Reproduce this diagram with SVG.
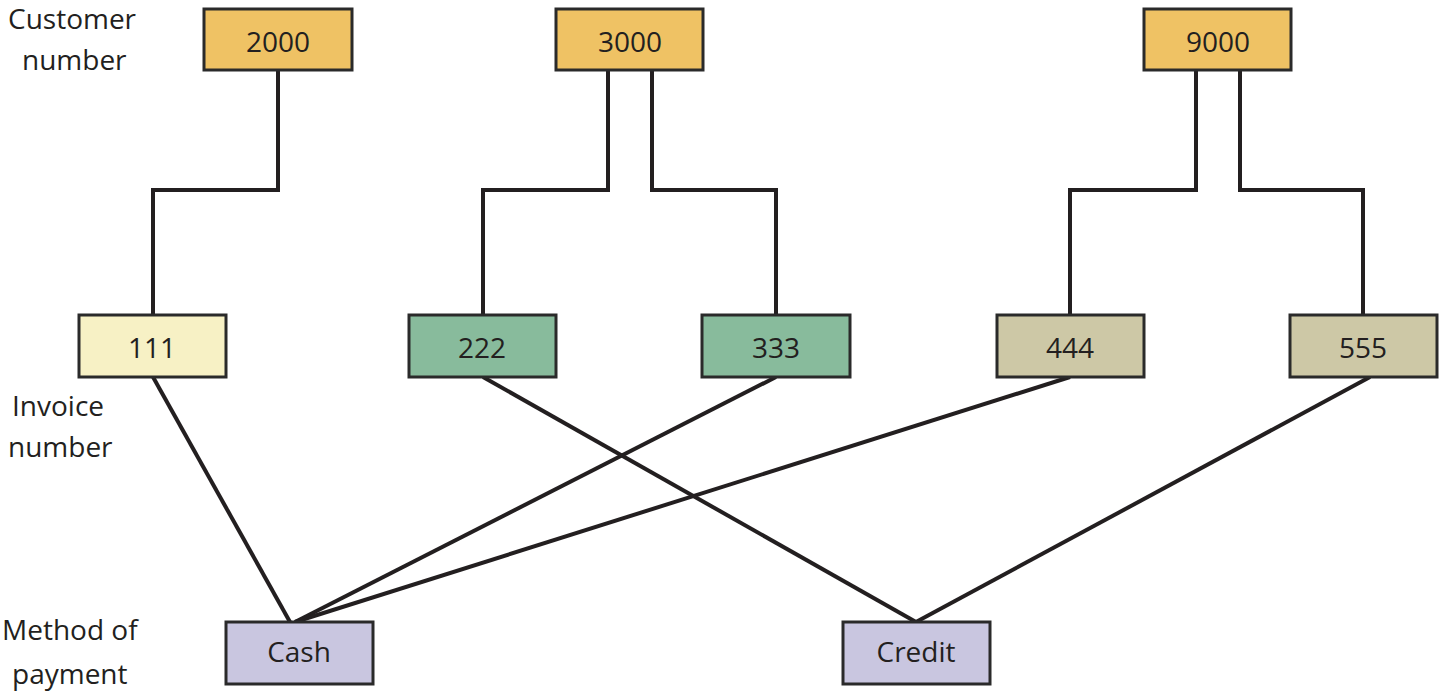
<svg xmlns="http://www.w3.org/2000/svg" width="1440" height="694" viewBox="0 0 1440 694">
<style>
.n rect{stroke:#2a2a2a;stroke-width:3}
text{font-family:"Open Sans","Liberation Sans",sans-serif;font-size:28px;fill:#231f20}
.n text{text-anchor:middle}
#conn path{fill:none;stroke:#231f20;stroke-width:4}
.c{fill:#efc264}.i1{fill:#f7f1c5}.i2{fill:#88bb9c}.i3{fill:#cdc8a6}.p{fill:#c9c6e0}
</style>
<rect width="1440" height="694" fill="#fff"/>
<g id="conn">
<path d="M278,70V190H153V315"/>
<path d="M608,70V190H483V315"/>
<path d="M652,70V190H776V315"/>
<path d="M1196,70V190H1070V315"/>
<path d="M1240,70V190H1363V315"/>
<path d="M153,377L290,622"/>
<path d="M776,377L295,622"/>
<path d="M1070,377L295,622"/>
<path d="M483,377L916,622"/>
<path d="M1370,377L916,622"/>
</g>
<g id="n2000" class="n"><rect class="c" x="204" y="9" width="148" height="61"/><text x="278" y="52">2000</text></g>
<g id="n3000" class="n"><rect class="c" x="556" y="9" width="147" height="61"/><text x="630" y="52">3000</text></g>
<g id="n9000" class="n"><rect class="c" x="1144" y="9" width="147" height="61"/><text x="1218" y="52">9000</text></g>
<g id="n111" class="n"><rect class="i1" x="79" y="315" width="147" height="62"/><text x="152" y="358">111</text></g>
<g id="n222" class="n"><rect class="i2" x="409" y="315" width="147" height="62"/><text x="482" y="358">222</text></g>
<g id="n333" class="n"><rect class="i2" x="702" y="315" width="148" height="62"/><text x="776" y="358">333</text></g>
<g id="n444" class="n"><rect class="i3" x="997" y="315" width="147" height="62"/><text x="1070" y="358">444</text></g>
<g id="n555" class="n"><rect class="i3" x="1290" y="315" width="147" height="62"/><text x="1363" y="358">555</text></g>
<g id="cash" class="n"><rect class="p" x="226" y="622" width="147" height="62"/><text x="299" y="662">Cash</text></g>
<g id="credit" class="n"><rect class="p" x="843" y="622" width="147" height="62"/><text x="916" y="662">Credit</text></g>
<text x="8" y="29">Customer</text>
<text x="22" y="70">number</text>
<text x="12" y="416">Invoice</text>
<text x="8" y="457">number</text>
<text x="2" y="640">Method of</text>
<text x="12" y="684">payment</text>
</svg>
